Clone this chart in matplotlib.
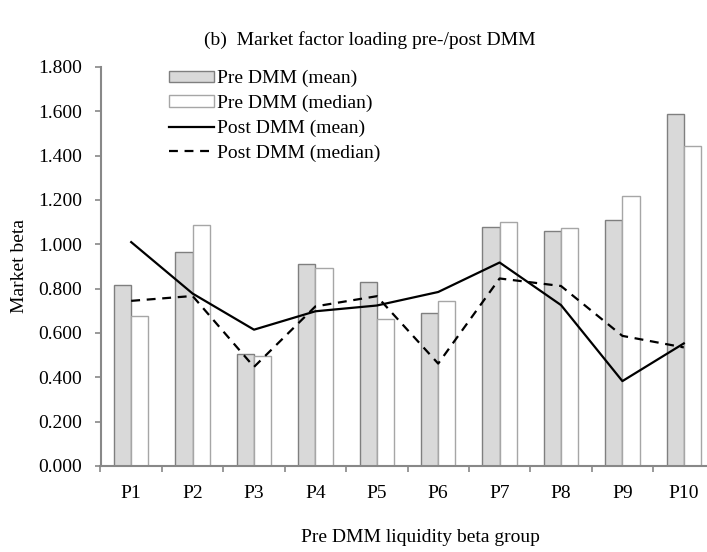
import numpy as np
import matplotlib
matplotlib.use("Agg")
import matplotlib.pyplot as plt
from matplotlib.patches import Patch
from matplotlib.lines import Line2D

plt.rcParams['font.family'] = ['Liberation Serif', 'DejaVu Serif']

groups = ['P1', 'P2', 'P3', 'P4', 'P5', 'P6', 'P7', 'P8', 'P9', 'P10']
pre_mean = [0.818, 0.965, 0.505, 0.910, 0.828, 0.692, 1.076, 1.062, 1.110, 1.590]
pre_median = [0.678, 1.085, 0.496, 0.892, 0.662, 0.745, 1.102, 1.075, 1.217, 1.445]
post_mean = [1.010, 0.778, 0.615, 0.698, 0.724, 0.785, 0.918, 0.726, 0.383, 0.553]
post_median = [0.745, 0.767, 0.447, 0.720, 0.766, 0.462, 0.846, 0.812, 0.587, 0.535]

W, H = 707, 552
fig = plt.figure(figsize=(W / 100, H / 100), dpi=100)
# axes runs a bit past the right edge, like the cropped original
ax = fig.add_axes([100.5 / W, 1 - 466 / H, 614 / W, 399 / H])

x = np.arange(len(groups))
bw = 0.28
axis_col = '#888888'

ax.bar(x - bw / 2, pre_mean, bw, color='#d9d9d9', edgecolor='#7f7f7f', linewidth=1.0)
ax.bar(x + bw / 2, pre_median, bw, color='white', edgecolor='#a6a6a6', linewidth=1.0)
ax.plot(x, post_mean, color='black', lw=1.6)
ax.plot(x, post_median, color='black', lw=1.6, ls=(0, (4, 3)))

ax.set_xlim(-0.5, len(groups) - 0.5)
ax.set_ylim(0, 1.8)
ax.set_yticks(np.arange(0, 1.81, 0.2))
ax.set_yticklabels(['%.3f' % v for v in np.arange(0, 1.81, 0.2)])
ax.set_xticks(x)
ax.set_xticklabels(groups)
ax.set_xticks(np.arange(-0.5, len(groups), 1), minor=True)
ax.tick_params(axis='x', which='major', length=0, pad=14, labelsize=14)
ax.tick_params(axis='x', which='minor', length=4, color=axis_col, width=1.2)
ax.tick_params(axis='y', length=4, color=axis_col, width=1.2, labelsize=14, pad=9)

for s in ['top', 'right']:
    ax.spines[s].set_visible(False)
for s in ['left', 'bottom']:
    ax.spines[s].set_color(axis_col)
    ax.spines[s].set_linewidth(1.5)

handles = [
    Patch(facecolor='#d9d9d9', edgecolor='#7f7f7f', label='Pre DMM (mean)'),
    Patch(facecolor='white', edgecolor='#a6a6a6', label='Pre DMM (median)'),
    Line2D([], [], color='black', lw=1.6, label='Post DMM (mean)'),
    Line2D([], [], color='black', lw=1.6, ls=(0, (4, 3)), label='Post DMM (median)'),
]
fig.legend(handles=handles, loc='upper left', bbox_to_anchor=(161 / W, 1 - 62 / H),
           frameon=False, fontsize=14, handlelength=2.3, handleheight=0.5,
           handletextpad=0.2, labelspacing=0.39, borderaxespad=0)

fig.text(370 / W, 1 - 40 / H, '(b)  Market factor loading pre-/post DMM',
         ha='center', va='center', fontsize=14)
fig.text(420 / W, 1 - 537 / H, 'Pre DMM liquidity beta group',
         ha='center', va='center', fontsize=14)
fig.text(20 / W, 1 - 266 / H, 'Market beta', rotation=90,
         ha='center', va='center', fontsize=14)

fig.savefig('out.png', dpi=100)
